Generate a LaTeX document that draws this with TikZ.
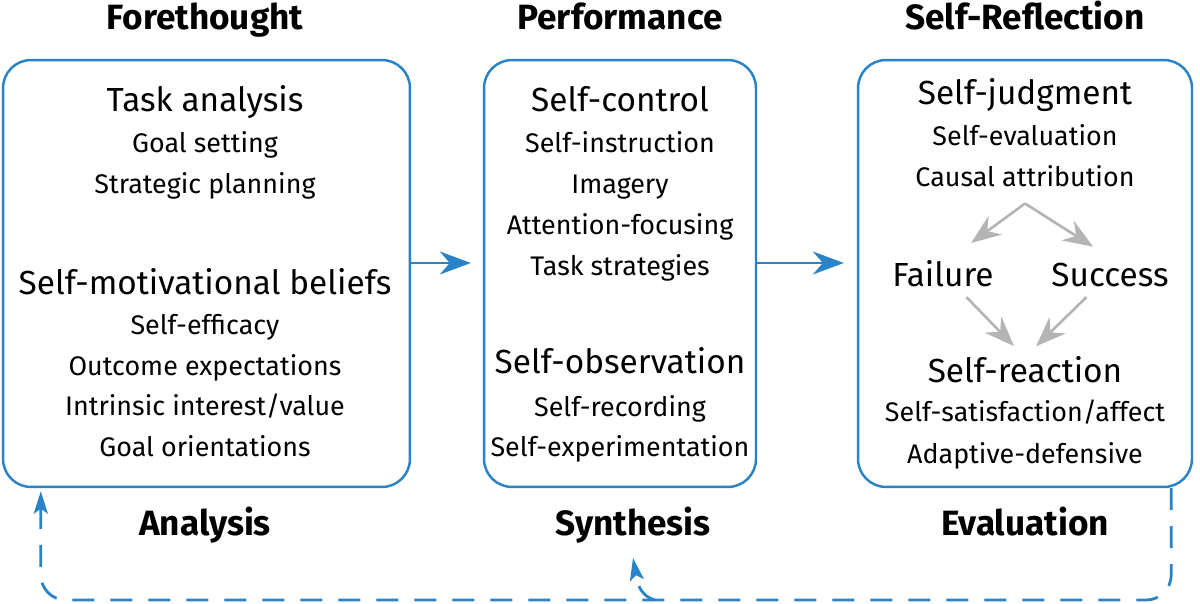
\documentclass[tikz,border=0pt]{standalone}
\usepackage{fontspec}
\setmainfont{Fira Sans}
\usetikzlibrary{arrows.meta}

\definecolor{zblue}{RGB}{41,131,201}
\definecolor{zgray}{RGB}{180,180,180}

\begin{document}
\begin{tikzpicture}[x=0.02cm,y=-0.02cm,
  phase/.style={draw=zblue,line width=1.4pt,rounded corners=0.56cm},
  title/.style={font=\fontsize{20}{24}\selectfont\bfseries,anchor=base},
  head/.style={font=\fontsize{19}{23}\selectfont,anchor=base},
  item/.style={font=\fontsize{15.3}{19}\selectfont,anchor=base},
  flow/.style={draw=zblue,line width=1.4pt,-{Stealth[length=0.62cm,width=0.46cm,inset=0.2cm]}},
  choice/.style={draw=zgray,line width=1.5pt,-{Stealth[length=0.6cm,width=0.46cm,inset=0.2cm]}},
  cycleline/.style={draw=zblue,line width=1.6pt,dash pattern=on 0.44cm off 0.32cm,
    rounded corners=0.5cm,-{Stealth[length=0.45cm,width=0.28cm,inset=0.1cm]}}]
\useasboundingbox (0,0) rectangle (1200,604);
% the three phases
\node[phase,minimum width=8.14cm,minimum height=8.54cm] (fore) at (206.5,273.5) {};
\node[phase,minimum width=5.44cm,minimum height=8.54cm] (perf) at (620,273.5) {};
\node[phase,minimum width=6.68cm,minimum height=8.54cm] (refl) at (1025,273.5) {};
\node[title] (tfore) at (205,30) {Forethought};
\node[title] (tperf) at (620,30) {Performance};
\node[title] (trefl) at (1025,30) {Self-Reflection};
\node[title] (analysis) at (205,535) {Analysis};
\node[title] (synth) at (633,535) {Synthesis};
\node[title] (evaluation) at (1025,535) {Evaluation};
% forethought
\node[head] (task) at (205,112) {Task analysis};
\node[item] (goal) at (205,153) {Goal setting};
\node[item] (plan) at (205,194) {Strategic planning};
\node[head] (motiv) at (205,295) {Self-motivational beliefs};
\node[item] (effic) at (205,335) {Self-efficacy};
\node[item] (outc) at (205,376) {Outcome expectations};
\node[item] (intr) at (205,416) {Intrinsic interest/value};
\node[item] (orient) at (205,457) {Goal orientations};
% performance
\node[head] (ctrl) at (620,112) {Self-control};
\node[item] (instr) at (620,153) {Self-instruction};
\node[item] (imag) at (620,194) {Imagery};
\node[item] (atten) at (620,235) {Attention-focusing};
\node[item] (strat) at (620,276) {Task strategies};
\node[head] (obs) at (620,374) {Self-observation};
\node[item] (record) at (620,417) {Self-recording};
\node[item] (exper) at (620,457) {Self-experimentation};
% self-reflection
\node[head] (judg) at (1025,105) {Self-judgment};
\node[item] (evalu) at (1025,146) {Self-evaluation};
\node[item] (caus) at (1025,187) {Causal attribution};
\node[head] (fail) at (943,287) {Failure};
\node[head] (succ) at (1110,287) {Success};
\node[head] (react) at (1025,382) {Self-reaction};
\node[item] (satis) at (1025,421) {Self-satisfaction/affect};
\node[item] (adapt) at (1025,463) {Adaptive-defensive};
\path[choice,shorten >=0.4cm] ([yshift=-0.2cm]caus.south) -- ([xshift=0.24cm]fail.north);
\path[choice,shorten >=0.4cm] ([yshift=-0.2cm]caus.south) -- (succ.north);
\path[choice,shorten <=0.1cm,shorten >=0.1cm] ([xshift=0.4cm]fail.south) -- ([xshift=-0.15cm]react.north);
\path[choice,shorten <=0.1cm,shorten >=0.1cm] ([xshift=-0.4cm]succ.south) -- ([xshift=0.15cm]react.north);
% cycle
\path[flow,shorten >=0.24cm] ([yshift=0.21cm]fore.east) -- ([yshift=0.21cm]perf.west);
\path[flow,shorten >=0.26cm] ([yshift=0.21cm]perf.east) -- ([yshift=0.21cm]refl.west);
\coordinate (bot) at (0,600);
\coordinate (fork) at (655,600);
\path[cycleline] ([xshift=-0.44cm]refl.south east) -- ([xshift=-0.44cm]refl.south east |- bot)
  -- ([xshift=0.78cm]fore.south west |- bot) -- ([xshift=0.78cm,yshift=-0.06cm]fore.south west);
\path[cycleline] (fork) to[out=165,in=-80] ([yshift=-0.18cm]synth.south);
\end{tikzpicture}
\end{document}
